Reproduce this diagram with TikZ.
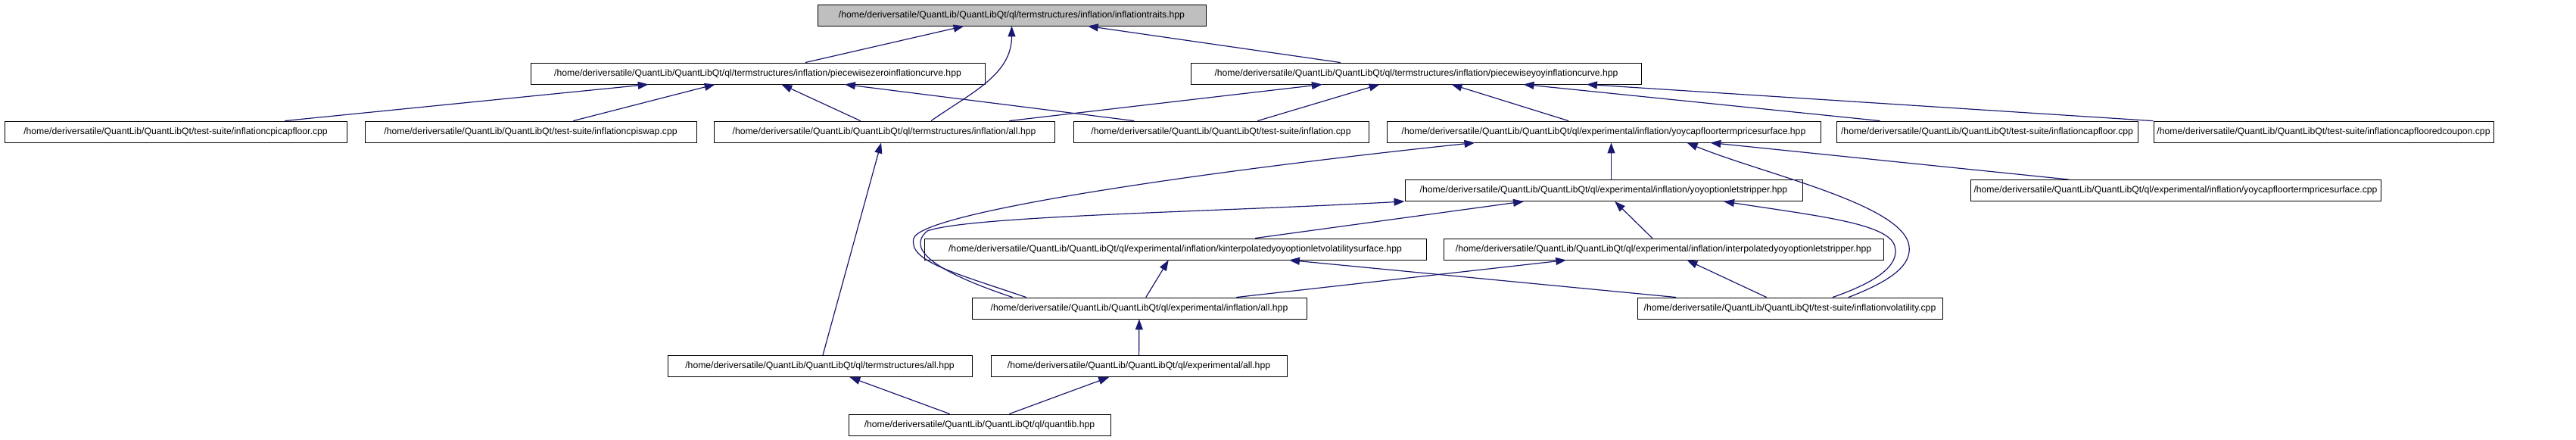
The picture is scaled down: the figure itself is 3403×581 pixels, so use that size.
\documentclass[tikz,border=0pt]{standalone}
\usepackage{fontspec}
\setmainfont{Liberation Sans}
\usepackage{tikz}
\usetikzlibrary{arrows.meta,calc}
\definecolor{edgeblue}{RGB}{25,25,112}
\definecolor{rootgray}{RGB}{191,191,191}
\tikzset{
  file/.style={draw=black, line width=0.9pt, fill=white, minimum height=28pt,
    inner sep=0pt, font=\fontsize{12.2}{14}\selectfont},
  incl/.style={draw=edgeblue, line width=1.2pt, -{Triangle[length=14pt,width=10pt]}},
}
\newcommand{\qlpath}{/home/deriversatile/QuantLib/QuantLibQt}

\begin{document}
\begin{tikzpicture}[x=1pt,y=-1pt]
  \useasboundingbox (0,0) rectangle (3403,581);
  % header being included
  \node[file, fill=rootgray, minimum width=513pt] (traits) at (1336.5,20)
    {\qlpath/ql/termstructures/inflation/inflationtraits.hpp};
  % curves
  \node[file, minimum width=600pt] (pwzero) at (1001,97)
    {\qlpath/ql/termstructures/inflation/piecewisezeroinflationcurve.hpp};
  \node[file, minimum width=595pt] (pwyoy) at (1871,97)
    {\qlpath/ql/termstructures/inflation/piecewiseyoyinflationcurve.hpp};
  % third row
  \node[file, minimum width=452pt] (cpicapfloor) at (232,174)
    {\qlpath/test-suite/inflationcpicapfloor.cpp};
  \node[file, minimum width=438pt] (cpiswap) at (701,174)
    {\qlpath/test-suite/inflationcpiswap.cpp};
  \node[file, minimum width=450pt] (tsinfall) at (1168,174)
    {\qlpath/ql/termstructures/inflation/all.hpp};
  \node[file, minimum width=390pt] (inflcpp) at (1613,174)
    {\qlpath/test-suite/inflation.cpp};
  \node[file, minimum width=573pt] (yoysurfhpp) at (2118.5,174)
    {\qlpath/ql/experimental/inflation/yoycapfloortermpricesurface.hpp};
  \node[file, minimum width=398pt] (capfloorcpp) at (2625,174)
    {\qlpath/test-suite/inflationcapfloor.cpp};
  \node[file, minimum width=449pt] (capcoupon) at (3069.5,174)
    {\qlpath/test-suite/inflationcapflooredcoupon.cpp};
  % stripper row
  \node[file, minimum width=525pt] (yoystripper) at (2118.5,251.5)
    {\qlpath/ql/experimental/inflation/yoyoptionletstripper.hpp};
  \node[file, minimum width=542pt] (yoysurfcpp) at (2874,251.5)
    {\qlpath/ql/experimental/inflation/yoycapfloortermpricesurface.cpp};
  \node[file, minimum width=663pt] (kinterp) at (1552.5,329)
    {\qlpath/ql/experimental/inflation/kinterpolatedyoyoptionletvolatilitysurface.hpp};
  \node[file, minimum width=581pt] (interpstripper) at (2197.5,329)
    {\qlpath/ql/experimental/inflation/interpolatedyoyoptionletstripper.hpp};
  \node[file, minimum width=442pt] (expinfall) at (1505,407)
    {\qlpath/ql/experimental/inflation/all.hpp};
  \node[file, minimum width=403pt] (volcpp) at (2364.5,407)
    {\qlpath/test-suite/inflationvolatility.cpp};
  % umbrella headers
  \node[file, minimum width=402pt] (tsall) at (1083,483.5)
    {\qlpath/ql/termstructures/all.hpp};
  \node[file, minimum width=391pt] (expall) at (1504.5,483.5)
    {\qlpath/ql/experimental/all.hpp};
  \node[file, minimum width=346pt] (quantlib) at (1294,561)
    {\qlpath/ql/quantlib.hpp};

  % include edges
  \draw[incl] (pwzero) -- (traits);
  \draw[incl] ([xshift=62pt]tsinfall.north) to[out=35,in=-90] (traits.south);
  \draw[incl] (pwyoy) -- (traits);
  \draw[incl] (cpicapfloor) -- (pwzero);
  \draw[incl] (cpiswap) -- (pwzero);
  \draw[incl] (tsinfall) -- (pwzero);
  \draw[incl] (inflcpp) -- (pwzero);
  \draw[incl] ([xshift=-60pt]tsinfall.north east) -- (pwyoy);
  \draw[incl] (inflcpp) -- (pwyoy);
  \draw[incl] (yoysurfhpp) -- (pwyoy);
  \draw[incl] (capfloorcpp) -- (pwyoy);
  \draw[incl] (capcoupon) -- (pwyoy);
  \draw[incl] ([xshift=10pt]yoystripper.north) -- ([xshift=10pt]yoysurfhpp.south);
  \draw[incl] ([xshift=72pt]expinfall.north west)
    .. controls (1260,360) and (1200,345) .. (1207,315)
    .. controls (1215,280) and (1600,225) .. ([xshift=-170pt]yoysurfhpp.south);
  \draw[incl] ([xshift=77.5pt]volcpp.north)
    .. controls (2500,370) and (2525,350) .. (2522,325)
    .. controls (2515,270) and (2330,230) .. ([xshift=110pt]yoysurfhpp.south);
  \draw[incl] (yoysurfcpp) -- (yoysurfhpp);
  \draw[incl] (kinterp) -- (yoystripper);
  \draw[incl] ([xshift=54pt]expinfall.north west)
    .. controls (1240,360) and (1195,330) .. (1225,305)
    .. controls (1280,285) and (1600,280) .. (yoystripper);
  \draw[incl] (interpstripper) -- (yoystripper);
  \draw[incl] ([xshift=56.5pt]volcpp.north)
    .. controls (2480,372) and (2510,350) .. (2503,325)
    .. controls (2495,295) and (2400,285) .. ([xshift=158.5pt]yoystripper.south);
  \draw[incl] (expinfall) -- (kinterp);
  \draw[incl] (volcpp) -- (kinterp);
  \draw[incl] (expinfall) -- (interpstripper);
  \draw[incl] (volcpp) -- (interpstripper);
  \draw[incl] (tsall) -- (tsinfall);
  \draw[incl] (expall) -- (expinfall);
  \draw[incl] (quantlib) -- (tsall);
  \draw[incl] (quantlib) -- (expall);
\end{tikzpicture}
\end{document}
